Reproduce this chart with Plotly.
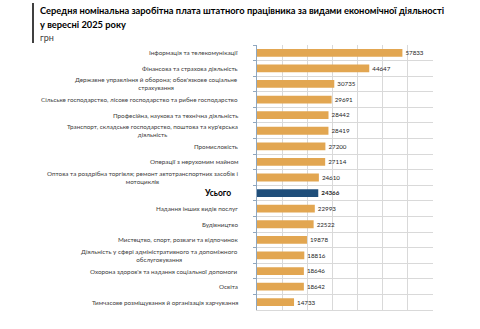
import plotly.graph_objects as go

categories = [
    "Інформація та телекомунікації",
    "Фінансова та страхова діяльність",
    "Державне управління й оборона; обов'язкове соціальне<br>страхування",
    "Сільське господарство, лісове господарство та рибне господарство",
    "Професійна, наукова та технічна діяльність",
    "Транспорт, складське господарство, поштова та кур'єрська<br>діяльність",
    "Промисловість",
    "Операції з нерухомим майном",
    "Оптова та роздрібна торгівля; ремонт автотранспортних засобів і<br>мотоциклів",
    "Усього",
    "Надання інших видів послуг",
    "Будівництво",
    "Мистецтво, спорт, розваги та відпочинок",
    "Діяльність у сфері адміністративного та допоміжного<br>обслуговування",
    "Охорона здоров'я та надання соціальної допомоги",
    "Освіта",
    "Тимчасове розміщування й організація харчування",
]
values = [57833, 44647, 30735, 29691, 28442, 28419, 27200, 27114, 24610,
          24366, 22993, 22522, 19878, 18816, 18646, 18642, 14733]
total_label = "Усього"

title_line1 = "Середня номінальна заробітна плата штатного працівника за видами економічної діяльності"
title_line2 = "у вересні 2025 року"
unit_label = "грн"

ORANGE = "#E2A651"
BLUE = "#1F4E7A"
FONT = "Lato"

W, H = 480, 329
L, R, T, B = 257, 47, 45, 19
pw, ph = W - L - R, H - T - B

def px_x(p):
    return (p - L) / pw

def px_y(p):
    return 1 - (p - T) / ph

colors = [BLUE if c == total_label else ORANGE for c in categories]
texts = [f"<b>{v}</b>" if c == total_label else f"{v}" for c, v in zip(categories, values)]

fig = go.Figure(go.Bar(
    x=values, y=categories, orientation="h",
    marker=dict(color=colors, line=dict(width=0)),
    text=texts, textposition="outside", cliponaxis=False,
    textfont=dict(family=FONT, size=8, color="#262626"),
    hoverinfo="skip",
))

annotations = []
for c in categories:
    is_total = c == total_label
    annotations.append(dict(
        x=px_x(240 if not is_total else 233), xref="paper", y=c, yref="y",
        text=f"<b>{c}</b>" if is_total else c,
        xanchor="right", align="center", showarrow=False,
        font=dict(family=FONT, size=8.5 if is_total else 6.3,
                  color="#000000" if is_total else "#404040"),
    ))

annotations += [
    dict(x=px_x(38), xref="paper", y=px_y(10), yref="paper", text=f"<b>{title_line1}</b>",
         xanchor="left", yanchor="middle", showarrow=False,
         font=dict(family=FONT, size=9.3, color="#000000")),
    dict(x=px_x(38), xref="paper", y=px_y(24), yref="paper", text=f"<b>{title_line2}</b>",
         xanchor="left", yanchor="middle", showarrow=False,
         font=dict(family=FONT, size=9.3, color="#000000")),
    dict(x=px_x(38), xref="paper", y=px_y(37), yref="paper", text=unit_label,
         xanchor="left", yanchor="middle", showarrow=False,
         font=dict(family=FONT, size=9, color="#404040")),
]

fig.update_layout(
    width=W, height=H,
    margin=dict(l=L, r=R, t=T, b=B, pad=0),
    paper_bgcolor="white", plot_bgcolor="white",
    bargap=0.5, showlegend=False,
    annotations=annotations,
    shapes=[dict(type="rect", xref="paper", yref="paper",
                 x0=px_x(32), x1=px_x(34), y0=px_y(3), y1=px_y(43),
                 fillcolor="#404040", line=dict(width=0))],
)
fig.update_xaxes(range=[0, 70000], dtick=10000, showticklabels=False,
                 showgrid=True, gridcolor="#D9D9D9", gridwidth=1, zeroline=False,
                 showline=True, linecolor="#D9D9D9", mirror=False, ticks="")
fig.update_yaxes(type="category", autorange="reversed", tickson="boundaries",
                 showticklabels=False, showgrid=True, gridcolor="#D9D9D9",
                 ticks="outside", ticklen=3, tickcolor="#8FA7C0",
                 showline=True, linecolor="#8FA7C0", linewidth=1)

fig.write_html("out.html")
